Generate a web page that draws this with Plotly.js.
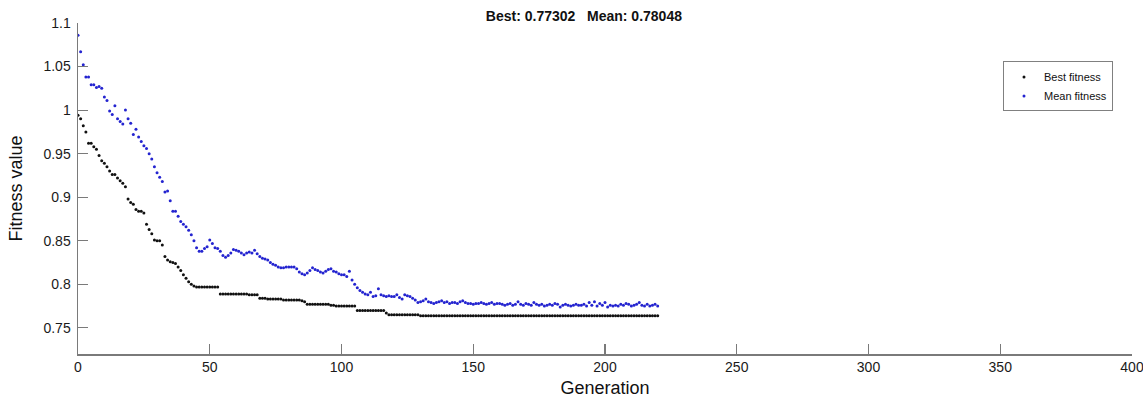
<!DOCTYPE html>
<html>
<head>
<meta charset="utf-8">
<script src="https://cdn.plot.ly/plotly-3.0.1.min.js"></script>
<style>html,body{margin:0;padding:0;background:#fff;}#chart{width:1143px;height:398px;}</style>
</head>
<body>
<div id="chart"></div>
<script>
// Best fitness per generation (generation 0..220)
const bestFitness = [
  0.994,0.990,0.982,0.975,0.962,0.962,0.958,0.955,0.948,0.942,
  0.939,0.935,0.930,0.926,0.926,0.922,0.919,0.916,0.912,0.898,
  0.894,0.892,0.886,0.884,0.884,0.882,0.869,0.863,0.858,0.851,
  0.850,0.850,0.845,0.832,0.828,0.826,0.825,0.824,0.820,0.816,
  0.811,0.807,0.803,0.800,0.798,0.797,0.797,0.797,0.797,0.797,
  0.797,0.797,0.797,0.797,0.789,0.789,0.789,0.789,0.789,0.789,
  0.789,0.789,0.789,0.789,0.789,0.788,0.788,0.788,0.788,0.784,
  0.784,0.784,0.783,0.783,0.783,0.783,0.783,0.783,0.782,0.782,
  0.782,0.782,0.782,0.782,0.782,0.781,0.780,0.777,0.777,0.777,
  0.777,0.777,0.777,0.777,0.777,0.777,0.776,0.776,0.775,0.775,
  0.775,0.775,0.775,0.775,0.775,0.775,0.770,0.770,0.770,0.770,
  0.770,0.770,0.770,0.770,0.770,0.770,0.770,0.767,0.765,0.765,
  0.765,0.765,0.765,0.765,0.765,0.765,0.765,0.765,0.765,0.765,
  0.764,0.764,0.764,0.764,0.764,0.764,0.764,0.764,0.764,0.764,
  0.764,0.764,0.764,0.764,0.764,0.764,0.764,0.764,0.764,0.764,
  0.764,0.764,0.764,0.764,0.764,0.764,0.764,0.764,0.764,0.764,
  0.764,0.764,0.764,0.764,0.764,0.764,0.764,0.764,0.764,0.764,
  0.764,0.764,0.764,0.764,0.764,0.764,0.764,0.764,0.764,0.764,
  0.764,0.764,0.764,0.764,0.764,0.764,0.764,0.764,0.764,0.764,
  0.764,0.764,0.764,0.764,0.764,0.764,0.764,0.764,0.764,0.764,
  0.764,0.764,0.764,0.764,0.764,0.764,0.764,0.764,0.764,0.764,
  0.764,0.764,0.764,0.764,0.764,0.764,0.764,0.764,0.764,0.764,
  0.764
];

// Mean fitness per generation (generation 0..220)
const meanFitness = [
  1.086,1.067,1.052,1.038,1.038,1.029,1.029,1.026,1.027,1.025,
  1.015,1.011,0.999,0.995,1.005,0.990,0.987,0.984,1.000,0.990,
  0.985,0.972,0.978,0.969,0.964,0.959,0.956,0.950,0.944,0.935,
  0.928,0.923,0.918,0.906,0.907,0.896,0.884,0.884,0.878,0.872,
  0.869,0.866,0.862,0.857,0.850,0.842,0.838,0.838,0.841,0.843,
  0.851,0.847,0.842,0.841,0.838,0.833,0.831,0.833,0.836,0.840,
  0.839,0.838,0.836,0.834,0.836,0.837,0.836,0.839,0.835,0.832,
  0.830,0.829,0.828,0.825,0.823,0.822,0.820,0.819,0.819,0.820,
  0.820,0.820,0.820,0.818,0.814,0.812,0.811,0.813,0.816,0.819,
  0.817,0.816,0.814,0.813,0.815,0.817,0.818,0.815,0.814,0.812,
  0.811,0.811,0.809,0.815,0.805,0.800,0.796,0.793,0.791,0.789,
  0.788,0.791,0.786,0.787,0.795,0.788,0.787,0.786,0.787,0.786,
  0.786,0.788,0.785,0.783,0.788,0.787,0.786,0.784,0.782,0.779,
  0.780,0.781,0.783,0.780,0.779,0.778,0.779,0.780,0.781,0.779,
  0.780,0.778,0.779,0.779,0.778,0.780,0.781,0.779,0.778,0.778,
  0.777,0.778,0.778,0.779,0.778,0.777,0.778,0.779,0.777,0.778,
  0.778,0.777,0.776,0.777,0.778,0.776,0.777,0.780,0.777,0.776,
  0.778,0.777,0.776,0.779,0.777,0.776,0.777,0.775,0.776,0.777,
  0.776,0.778,0.777,0.774,0.776,0.777,0.776,0.775,0.776,0.777,
  0.776,0.776,0.777,0.775,0.779,0.776,0.780,0.775,0.778,0.776,
  0.779,0.774,0.776,0.775,0.776,0.775,0.777,0.776,0.778,0.777,
  0.775,0.776,0.777,0.779,0.776,0.775,0.777,0.775,0.776,0.777,
  0.775
];

const generations = bestFitness.map((_, i) => i);
const seriesNames = ['Best fitness', 'Mean fitness'];
const titleText = 'Best: 0.77302&nbsp;&nbsp;&nbsp;Mean: 0.78048';
const xTitle = 'Generation';
const yTitle = 'Fitness value';

const FONT = 'Liberation Sans, Arial, sans-serif';
const axisColor = '#7a7a7a';

const traces = [
  {x: generations, y: bestFitness, name: seriesNames[0], type: 'scatter', mode: 'markers',
   marker: {color: '#111111', size: 3, line: {width: 0}}},
  {x: generations, y: meanFitness, name: seriesNames[1], type: 'scatter', mode: 'markers',
   marker: {color: '#2424d0', size: 3, line: {width: 0}}}
];

const layout = {
  width: 1143, height: 398,
  margin: {l: 78, r: 11, t: 23, b: 44, pad: 0},
  paper_bgcolor: '#ffffff', plot_bgcolor: '#ffffff',
  font: {family: FONT, color: '#1a1a1a', size: 13},
  title: {text: titleText, font: {family: FONT, size: 14, color: '#111', weight: 'bold'},
          x: 0.48, xref: 'paper', xanchor: 'center', y: 0.96, yref: 'container', yanchor: 'middle'},
  showlegend: true,
  legend: {x: 0.8776, y: 0.884, xanchor: 'left', yanchor: 'top', bgcolor: '#ffffff',
           bordercolor: '#808080', borderwidth: 1, font: {family: FONT, size: 11, color: '#111'},
           itemsizing: 'trace', tracegroupgap: 0, itemwidth: 30},
  xaxis: {range: [0, 400], dtick: 50, tick0: 0, showgrid: false, zeroline: false,
          showline: true, linecolor: axisColor, linewidth: 1.5, mirror: false,
          ticks: 'inside', ticklen: 10, tickwidth: 1.2, tickcolor: axisColor,
          ticklabeloverflow: 'allow',
          tickfont: {family: FONT, size: 14, color: '#1a1a1a'},
          title: {text: xTitle, font: {family: FONT, size: 18, color: '#111'}, standoff: 10}},
  yaxis: {range: [0.72, 1.1], dtick: 0.05, tick0: 0.75, showgrid: false, zeroline: false,
          showline: true, linecolor: axisColor, linewidth: 1.5, mirror: false,
          ticks: 'inside', ticklen: 10, tickwidth: 1.2, tickcolor: axisColor, ticklabelstandoff: 3,
          tickfont: {family: FONT, size: 14, color: '#1a1a1a'},
          title: {text: yTitle, font: {family: FONT, size: 18, color: '#111'}, standoff: 16}}
};

Plotly.newPlot('chart', traces, layout, {displayModeBar: false, staticPlot: true});
</script>
</body>
</html>
